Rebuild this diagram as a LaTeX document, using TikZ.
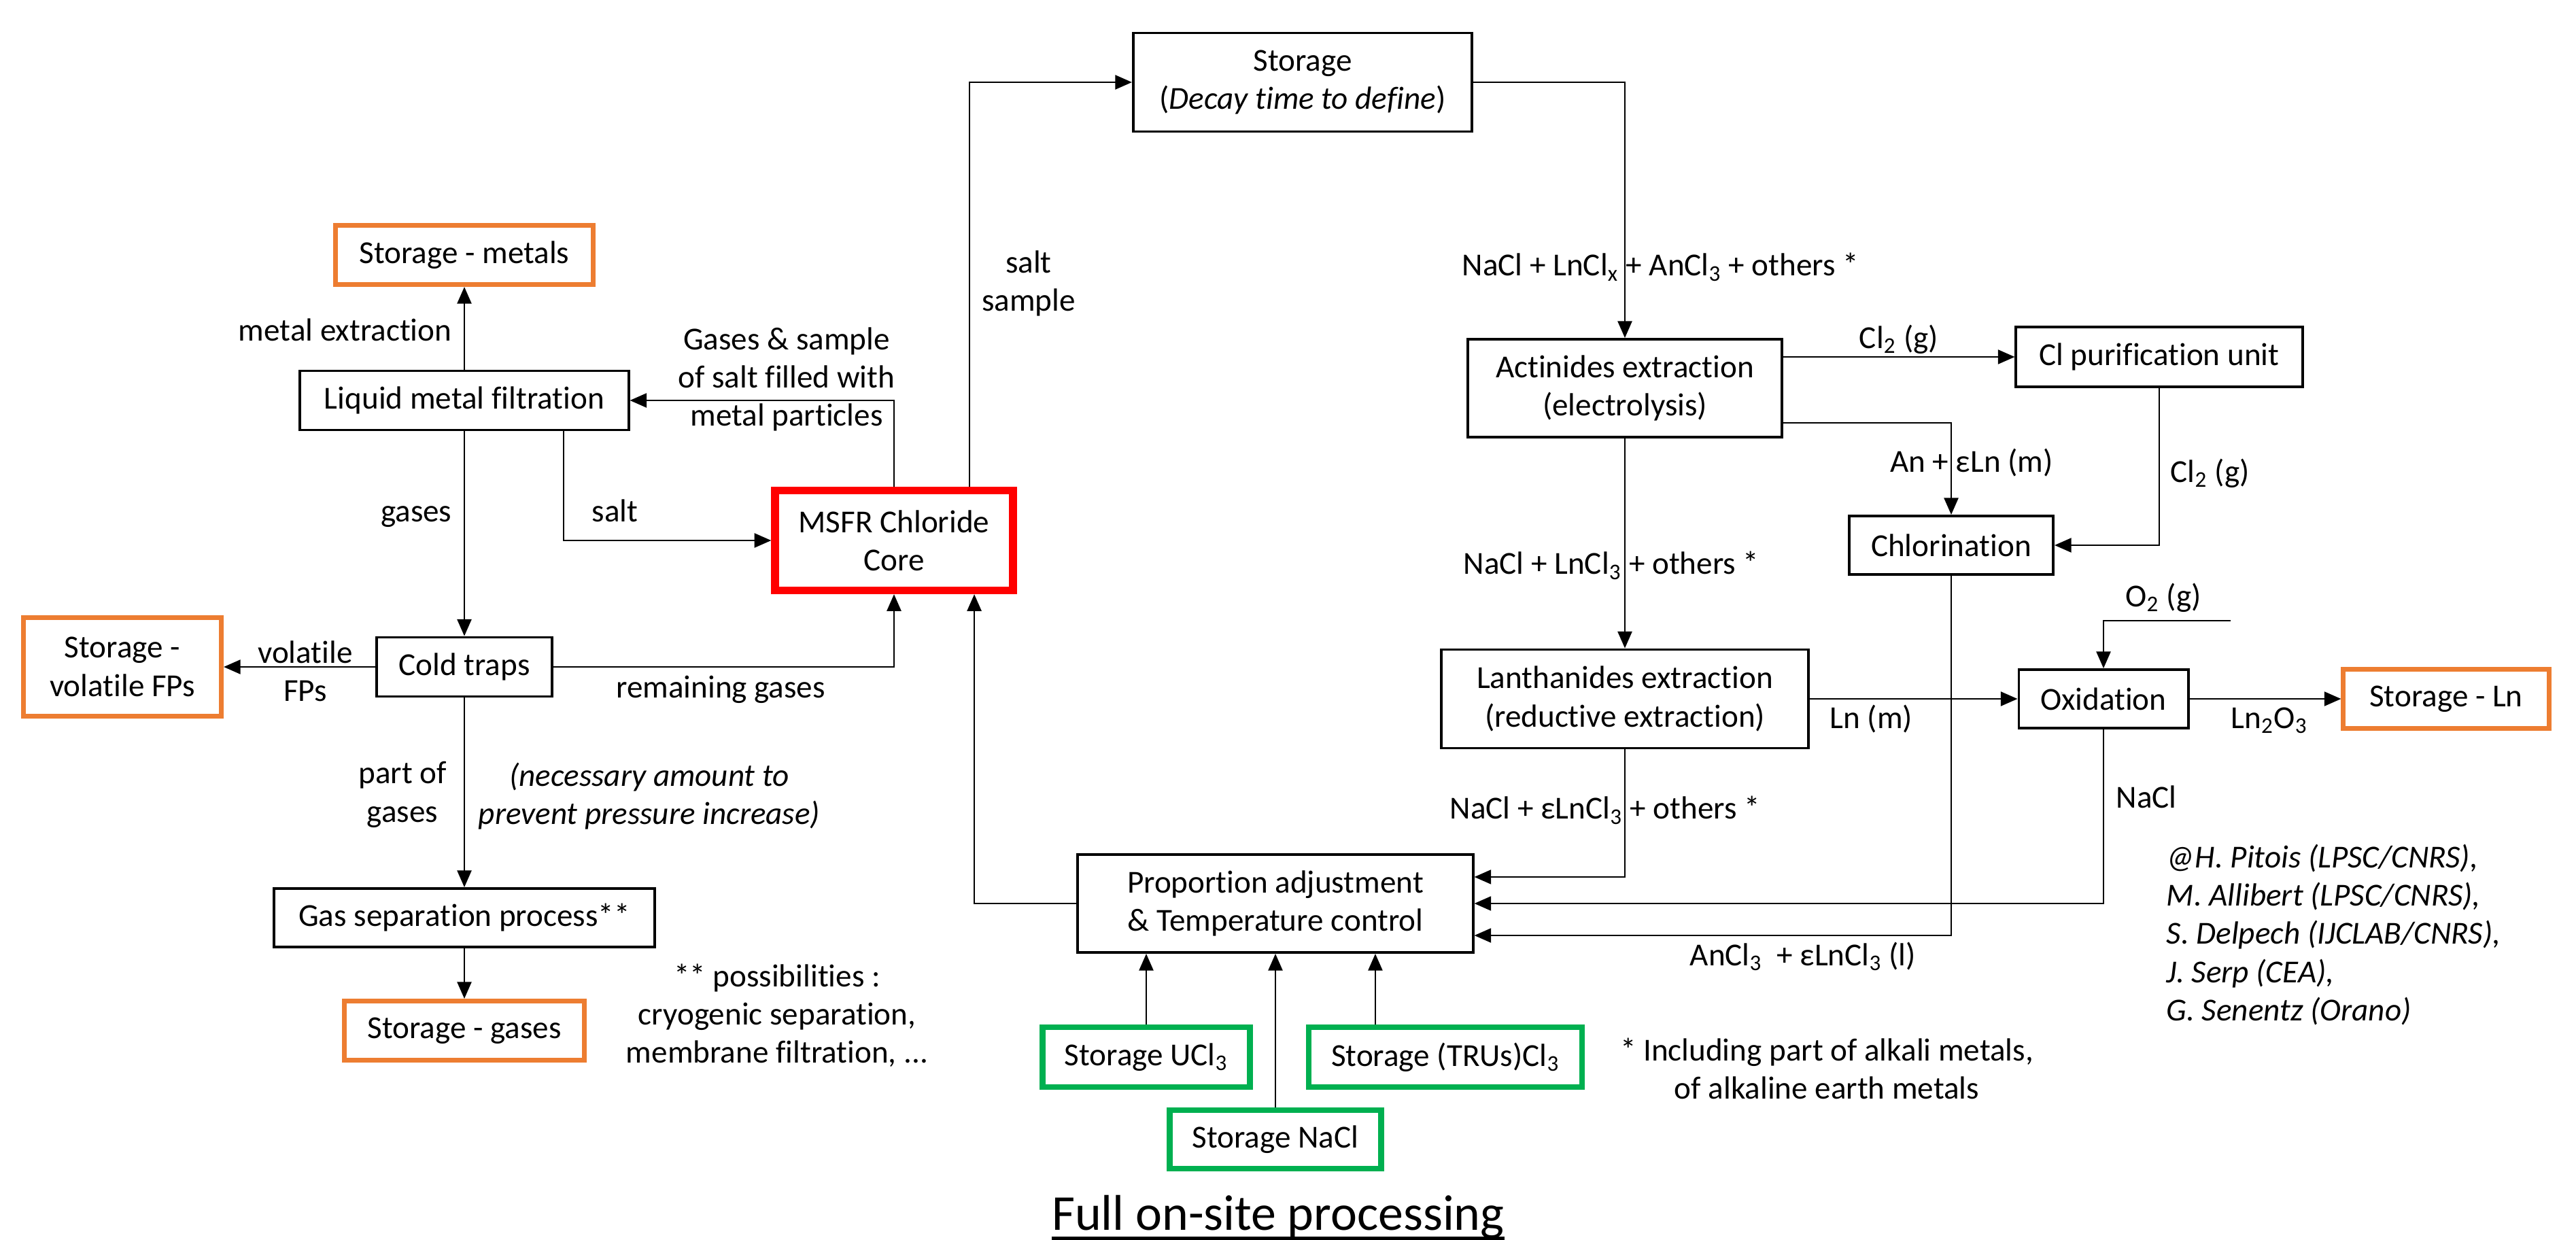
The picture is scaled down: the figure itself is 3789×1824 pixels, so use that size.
\documentclass[tikz,border=0pt]{standalone}
\usepackage{fontspec}
\setmainfont[Ligatures=NoCommon]{Carlito}
\usetikzlibrary{arrows.meta}
\definecolor{corered}{RGB}{255,0,0}
\definecolor{storeorange}{RGB}{237,125,49}
\definecolor{storegreen}{RGB}{0,176,80}
\tikzset{
  box/.style={draw,line width=1.1pt,align=center,inner sep=2pt},
  orangebox/.style={box,draw=storeorange,line width=2pt},
  greenbox/.style={box,draw=storegreen,line width=2.4pt},
  corebox/.style={box,draw=corered,line width=3.2pt},
  lbl/.style={align=center,inner sep=0pt},
  note/.style={lbl,font=\fontsize{13.4}{16}\selectfont\itshape},
  flow/.style={->,line width=0.6pt},
}

\begin{document}
\begin{tikzpicture}[x=0.01cm,y=-0.01cm,>={Triangle[length=7pt,width=6pt]},font=\fontsize{13.4}{16}\selectfont]
  \useasboundingbox (0,0) rectangle (3789,1824);

  \node[orangebox,minimum width=3.78cm,minimum height=0.87cm] (smetals) at (683,375) {Storage - metals};
  \node[box,minimum width=4.83cm,minimum height=0.87cm] (lmf) at (683,589) {Liquid metal filtration};
  \node[corebox,minimum width=3.50cm,minimum height=1.47cm] (msfr) at (1315,795) {MSFR Chloride\\Core};
  \node[box,minimum width=2.58cm,minimum height=0.87cm] (cold) at (683,981) {Cold traps};
  \node[orangebox,minimum width=2.91cm,minimum height=1.45cm] (svol) at (180,981) {Storage -\\volatile FPs};
  \node[box,minimum width=5.60cm,minimum height=0.86cm] (gassep) at (683,1350) {Gas separation process**};
  \node[orangebox,minimum width=3.52cm,minimum height=0.87cm] (sgases) at (683,1516) {Storage - gases};
  \node[box,minimum width=4.98cm,minimum height=1.45cm] (storage) at (1916,121) {Storage\\(\textit{Decay time to define})};
  \node[box,minimum width=4.62cm,minimum height=1.44cm] (actin) at (2390,571) {Actinides extraction\\(electrolysis)};
  \node[box,minimum width=4.21cm,minimum height=0.88cm] (clpur) at (3176,525) {Cl purification unit};
  \node[box,minimum width=3.00cm,minimum height=0.86cm] (chlor) at (2870,802) {Chlorination};
  \node[box,minimum width=5.39cm,minimum height=1.45cm] (lanth) at (2390,1028) {Lanthanides extraction\\(reductive extraction)};
  \node[box,minimum width=2.49cm,minimum height=0.86cm] (oxid) at (3094,1028) {Oxidation};
  \node[orangebox,minimum width=3.02cm,minimum height=0.87cm] (sln) at (3598,1028) {Storage - Ln};
  \node[box,minimum width=5.81cm,minimum height=1.44cm] (prop) at (1876,1329) {Proportion adjustment\\\& Temperature control};
  \node[greenbox,minimum width=3.05cm,minimum height=0.88cm] (sucl) at (1686,1555) {Storage UCl\textsubscript{3}};
  \node[greenbox,minimum width=3.11cm,minimum height=0.86cm] (snacl) at (1876,1676) {Storage NaCl};
  \node[greenbox,minimum width=4.02cm,minimum height=0.88cm] (stru) at (2126,1555) {Storage (TRUs)Cl\textsubscript{3}};

  \draw[flow] (lmf) -- (smetals);
  \draw[flow] (msfr.north) |- (lmf.east);
  \draw[flow] ([xshift=1.46cm]lmf.south) |- (msfr.west);
  \draw[flow] (lmf) -- (cold);
  \draw[flow] (cold) -- (svol);
  \draw[flow] (cold.east) -| (msfr.south);
  \draw[flow] (cold) -- (gassep);
  \draw[flow] (gassep) -- (sgases);
  \draw[flow] ([xshift=1.11cm]msfr.north) |- (storage.west);
  \draw[flow] (storage.east) -| (actin.north);
  \draw[flow] (actin.east |- clpur.west) -- (clpur.west);
  \draw[flow] ([yshift=-0.51cm]actin.east) -| (chlor.north);
  \draw[flow] (clpur.south) |- (chlor.east);
  \draw[flow] (actin) -- (lanth);
  \draw[flow] (lanth) -- (oxid);
  \coordinate (o2in) at (3281,913);
  \draw[flow] (o2in) -| (oxid.north);
  \draw[flow] (oxid) -- (sln);
  \draw[flow] (lanth.south) |- ([yshift=0.39cm]prop.east);
  \draw[flow] (oxid.south) |- (prop.east);
  \draw[flow] (chlor.south) |- ([yshift=-0.47cm]prop.east);
  \draw[flow] (prop.west) -| ([xshift=1.18cm]msfr.south);
  \foreach \s/\dx in {sucl/0,snacl/0,stru/-1.03}
    {
      \draw[flow] ([xshift=\dx cm]\s.north) -- ([xshift=\dx cm]\s.north |- prop.south);
    }

  \node[lbl,anchor=east] (lmetal) at (665,485) {metal extraction};
  \node[lbl] (lsample) at (1157,558) {Gases \& sample\\of salt filled with\\metal particles};
  \node[lbl,anchor=west] (lsalt) at (870,751) {salt};
  \node[lbl,anchor=east] (lgases) at (665,760) {gases};
  \node[lbl] (lvol) at (449,987) {volatile\\FPs};
  \node[lbl] (lremain) at (1060,1014) {remaining gases};
  \node[lbl] (lpart) at (592,1169) {part of\\gases};
  \node[note] (lneed) at (955,1171) {(necessary amount to\\prevent pressure increase)};
  \node[lbl] (lposs) at (1143,1494) {** possibilities :\\cryogenic separation,\\membrane filtration, ...};
  \node[lbl] (lsaltsample) at (1513,417) {salt\\sample};
  \node[lbl,anchor=west] (lstore) at (2150,393) {NaCl + LnCl\textsubscript{x} + AnCl\textsubscript{3} + others *};
  \node[lbl] (lcl) at (2793,499) {Cl\textsubscript{2} (g)};
  \node[lbl] (lan) at (2900,681) {An + εLn (m)};
  \node[lbl,anchor=west] (lcltwo) at (3192,696) {Cl\textsubscript{2} (g)};
  \node[lbl,anchor=west] (lactin) at (2152,832) {NaCl + LnCl\textsubscript{3} + others *};
  \node[lbl,anchor=west] (lln) at (2691,1058) {Ln (m)};
  \node[lbl] (lo) at (3182,879) {O\textsubscript{2} (g)};
  \node[lbl] (llnox) at (3338,1060) {Ln\textsubscript{2}O\textsubscript{3}};
  \node[lbl,anchor=west] (lnacl) at (3112,1172) {NaCl};
  \node[lbl,anchor=west] (llanth) at (2132,1192) {NaCl + εLnCl\textsubscript{3} + others *};
  \node[lbl,anchor=west] (lchlor) at (2485,1407) {AnCl\textsubscript{3}\ \ + εLnCl\textsubscript{3} (l)};
  \node[lbl] (lincl) at (2687,1572) {* Including part of alkali metals,\\of alkaline earth metals};
  \node[note,align=left,anchor=west] (lauth) at (3186,1375) {@H. Pitois (LPSC/CNRS),\\M. Allibert (LPSC/CNRS),\\S. Delpech (IJCLAB/CNRS),\\J. Serp (CEA),\\G. Senentz (Orano)};
  \node[lbl,font=\fontsize{21}{25}\selectfont] (title) at (1880,1790) {Full on-site processing};
  \draw[line width=1.5pt] ([yshift=-3.4pt]title.base west) -- ([yshift=-3.4pt]title.base east);
\end{tikzpicture}
\end{document}
